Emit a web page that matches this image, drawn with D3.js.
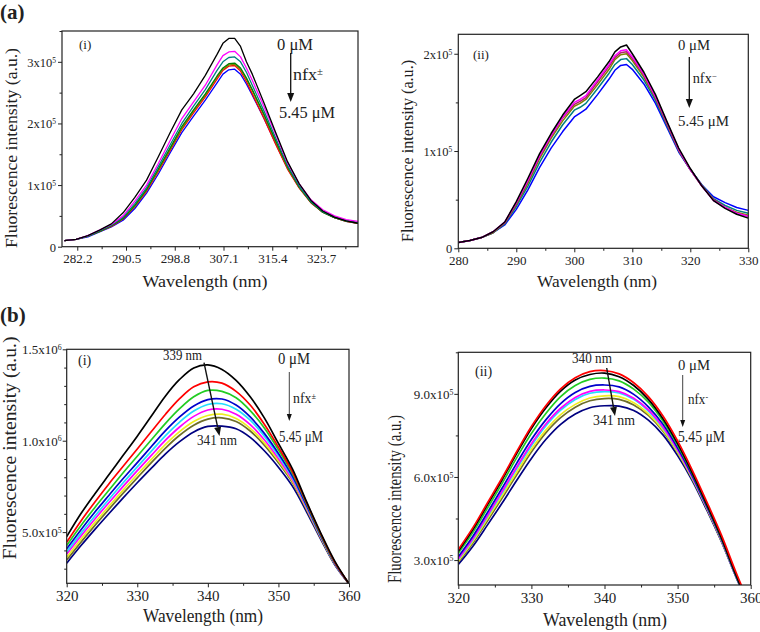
<!DOCTYPE html>
<html><head><meta charset="utf-8">
<script src="https://cdn.jsdelivr.net/npm/d3@7"></script>
<style>body{margin:0;background:#fff}svg{display:block}text{font-family:"Liberation Serif","Times New Roman",serif;fill:#222}</style>
</head><body>
<svg id="chart" width="760" height="632"></svg>
<script>
// ---------- DATA (intensities in units of 1e5 a.u.) ----------
const aiWavelength = [280,282,284,286,288,290,292,294,296,298,300,302,304,306,307,308,309,310,311,312,314,316,318,320,322,324,326,328,330];
const aiBlack   = [0.10,0.12,0.18,0.27,0.37,0.55,0.80,1.08,1.46,1.85,2.22,2.48,2.78,3.12,3.30,3.38,3.38,3.25,3.00,2.80,2.33,1.85,1.38,1.02,0.75,0.58,0.48,0.42,0.38];
const aiMagenta = [0.10,0.12,0.18,0.27,0.36,0.50,0.74,1.00,1.35,1.72,2.08,2.35,2.62,2.95,3.10,3.16,3.17,3.08,2.90,2.70,2.27,1.82,1.36,1.02,0.76,0.60,0.50,0.44,0.41];
const aiTeal    = [0.10,0.12,0.17,0.26,0.35,0.48,0.70,0.96,1.30,1.65,2.00,2.28,2.55,2.86,3.00,3.07,3.08,3.00,2.83,2.62,2.20,1.76,1.32,0.98,0.73,0.57,0.48,0.42,0.39];
const aiGreen   = [0.10,0.12,0.17,0.25,0.34,0.46,0.67,0.93,1.26,1.60,1.95,2.22,2.48,2.77,2.90,2.97,2.98,2.90,2.74,2.55,2.15,1.72,1.30,0.97,0.72,0.56,0.47,0.42,0.39];
const aiOlive   = [0.10,0.12,0.17,0.25,0.34,0.46,0.66,0.92,1.24,1.58,1.92,2.20,2.46,2.75,2.88,2.95,2.96,2.88,2.72,2.53,2.13,1.70,1.28,0.96,0.72,0.56,0.47,0.41,0.38];
const aiRed     = [0.10,0.12,0.17,0.25,0.33,0.45,0.65,0.90,1.22,1.56,1.90,2.17,2.43,2.72,2.86,2.93,2.94,2.85,2.68,2.48,2.08,1.66,1.26,0.95,0.71,0.56,0.47,0.41,0.38];
const aiBlue    = [0.10,0.12,0.16,0.24,0.32,0.43,0.62,0.87,1.18,1.52,1.85,2.12,2.38,2.66,2.80,2.87,2.88,2.80,2.64,2.46,2.08,1.67,1.27,0.96,0.72,0.56,0.47,0.41,0.38];
const aiXTicks = [282.2,290.5,298.8,307.1,315.4,323.7];
const aiXTickLabels = ["282.2","290.5","298.8","307.1","315.4","323.7"];
const aiYTicks = [0,1,2,3];
const aiYTickLabels = ["0","1x10^5","2x10^5","3x10^5"];

const aiiWavelength = [280,282,284,286,288,290,292,294,296,298,300,301,302,304,306,307,308,309,310,312,314,316,318,320,322,324,326,328,330];
const aiiBlack   = [0.06,0.08,0.11,0.17,0.27,0.48,0.72,0.97,1.18,1.37,1.53,1.57,1.61,1.76,1.92,2.02,2.07,2.09,2.00,1.81,1.58,1.30,1.03,0.82,0.64,0.49,0.41,0.35,0.31];
const aiiMagenta = [0.06,0.08,0.11,0.17,0.27,0.47,0.70,0.95,1.16,1.35,1.50,1.53,1.57,1.73,1.89,1.98,2.03,2.04,1.97,1.79,1.56,1.29,1.02,0.81,0.64,0.49,0.42,0.36,0.33];
const aiiRed     = [0.06,0.08,0.11,0.17,0.26,0.46,0.69,0.94,1.15,1.34,1.48,1.51,1.55,1.71,1.87,1.96,2.01,2.02,1.95,1.78,1.55,1.28,1.01,0.81,0.64,0.50,0.42,0.36,0.33];
const aiiOlive   = [0.06,0.08,0.11,0.16,0.26,0.45,0.67,0.92,1.13,1.31,1.46,1.49,1.53,1.68,1.84,1.94,1.99,2.00,1.93,1.76,1.54,1.27,1.01,0.81,0.64,0.50,0.42,0.37,0.34];
const aiiTeal    = [0.06,0.08,0.11,0.16,0.25,0.43,0.64,0.88,1.09,1.27,1.42,1.45,1.49,1.64,1.80,1.89,1.94,1.95,1.89,1.73,1.52,1.26,1.00,0.81,0.65,0.51,0.44,0.39,0.36];
const aiiBlue    = [0.06,0.08,0.11,0.16,0.24,0.40,0.60,0.83,1.03,1.20,1.35,1.39,1.43,1.58,1.74,1.83,1.88,1.89,1.84,1.69,1.49,1.24,0.99,0.81,0.65,0.53,0.47,0.42,0.39];
const aiiXTicks = [280,290,300,310,320,330];
const aiiXTickLabels = ["280","290","300","310","320","330"];
const aiiYTicks = [0,1,2];
const aiiYTickLabels = ["0","1x10^5","2x10^5"];

const bWavelength = [320,322,324,326,328,330,332,334,336,338,340,342,344,346,348,350,352,354,356,358,360];
const biBlack   = [4.75,6.00,7.10,8.15,9.20,10.25,11.35,12.45,13.35,13.98,14.15,13.90,13.30,12.40,11.25,9.85,8.45,6.65,4.95,3.40,2.17];
const biRed     = [4.45,5.60,6.65,7.65,8.60,9.55,10.50,11.45,12.30,12.95,13.22,13.15,12.70,11.95,10.90,9.65,8.30,6.60,4.90,3.35,2.17];
const biGreen   = [4.27,5.35,6.35,7.30,8.25,9.15,10.05,10.95,11.75,12.40,12.75,12.70,12.35,11.65,10.70,9.50,8.20,6.55,4.85,3.33,2.17];
const biBlue    = [4.09,5.12,6.10,7.02,7.93,8.80,9.68,10.55,11.30,11.90,12.25,12.28,11.95,11.30,10.40,9.30,8.05,6.45,4.80,3.30,2.17];
const biCyan    = [3.92,4.93,5.88,6.80,7.70,8.57,9.43,10.28,11.02,11.62,11.98,12.02,11.72,11.12,10.25,9.18,7.97,6.40,4.77,3.28,2.17];
const biMagenta = [3.80,4.78,5.72,6.62,7.50,8.36,9.20,10.03,10.75,11.33,11.68,11.72,11.45,10.88,10.05,9.02,7.86,6.33,4.73,3.27,2.17];
const biYellow  = [3.62,4.60,5.53,6.42,7.30,8.15,8.98,9.80,10.50,11.05,11.38,11.45,11.22,10.68,9.88,8.90,7.77,6.27,4.70,3.25,2.17];
const biOlive   = [3.47,4.44,5.37,6.26,7.13,7.97,8.80,9.60,10.30,10.85,11.18,11.25,11.05,10.53,9.76,8.80,7.70,6.22,4.67,3.24,2.17];
const biNavy    = [3.30,4.25,5.15,6.02,6.87,7.70,8.50,9.28,9.95,10.48,10.78,10.80,10.65,10.18,9.45,8.55,7.50,6.10,4.60,3.20,2.17];
const biYTicks = [5,10,15];
const biYTickLabels = ["5.0x10^5","1.0x10^6","1.5x10^6"];

const biiRed     = [3.38,4.17,5.07,5.97,6.92,7.82,8.58,9.18,9.58,9.80,9.84,9.72,9.40,8.90,8.20,7.30,6.25,5.10,3.90,2.55,1.30];
const biiBlack   = [3.32,4.10,5.00,5.90,6.85,7.75,8.50,9.10,9.50,9.70,9.75,9.62,9.30,8.80,8.10,7.20,6.15,5.00,3.80,2.45,1.20];
const biiGreen   = [3.25,4.00,4.88,5.77,6.70,7.57,8.30,8.90,9.30,9.52,9.57,9.47,9.17,8.70,8.02,7.15,6.12,4.98,3.78,2.45,1.20];
const biiBlue    = [3.12,3.86,4.72,5.60,6.50,7.35,8.07,8.65,9.05,9.27,9.32,9.25,8.98,8.53,7.90,7.05,6.05,4.93,3.75,2.42,1.20];
const biiMagenta = [3.05,3.78,4.62,5.48,6.36,7.20,7.92,8.48,8.87,9.09,9.14,9.08,8.84,8.42,7.80,6.98,6.00,4.90,3.73,2.41,1.20];
const biiCyan    = [3.02,3.74,4.58,5.43,6.30,7.13,7.85,8.41,8.80,9.02,9.08,9.03,8.80,8.38,7.77,6.96,5.99,4.89,3.72,2.40,1.20];
const biiYellow  = [2.97,3.68,4.50,5.33,6.18,7.00,7.70,8.25,8.62,8.85,8.93,8.90,8.68,8.28,7.70,6.90,5.95,4.87,3.70,2.40,1.20];
const biiOlive   = [2.93,3.62,4.42,5.24,6.08,6.90,7.60,8.14,8.52,8.75,8.83,8.80,8.60,8.22,7.65,6.87,5.93,4.85,3.69,2.39,1.20];
const biiNavy    = [2.84,3.50,4.27,5.06,5.88,6.67,7.36,7.90,8.27,8.50,8.57,8.56,8.40,8.05,7.52,6.77,5.87,4.80,3.66,2.38,1.20];
const biiYTicks = [3,6,9];
const biiYTickLabels = ["3.0x10^5","6.0x10^5","9.0x10^5"];
const bXTicks = [320,330,340,350,360];
const bXTickLabels = ["320","330","340","350","360"];

// ---------- DRAWING ----------
const svg = d3.select("#chart");
const C = {black:"#000000", magenta:"#ff00ff", teal:"#008080", green:"#008000", olive:"#808000", red:"#ff0000", blue:"#0000ff",
  bgreen:"#22cc22", bblue:"#0000cc", cyan:"#22ddff", yellow:"#eeee22", bolive:"#6e6e2a", navy:"#000080"};

function supText(sel, str) {
  const parts = str.split("^");
  sel.text(parts[0]);
  if (parts[1]) sel.append("tspan").attr("dy", "-0.55em").attr("font-size", "0.6em").text(parts[1]);
}

function drawPanel(cfg, idx) {
  const x = d3.scaleLinear().domain(cfg.xDomain).range([cfg.left, cfg.right]);
  const y = d3.scaleLinear().domain(cfg.yDomain).range([cfg.bottom, cfg.top]);
  const g = svg.append("g");
  const clipId = "clip" + idx;
  svg.append("clipPath").attr("id", clipId).append("rect")
    .attr("x", cfg.left).attr("y", cfg.top).attr("width", cfg.right - cfg.left).attr("height", cfg.bottom - cfg.top);
  const line = d3.line().x(d => x(d[0])).y(d => y(d[1])).curve(cfg.curve);
  const lg = g.append("g").attr("clip-path", `url(#${clipId})`);
  cfg.series.slice().reverse().forEach(s => {
    lg.append("path").datum(cfg.wl.map((w, i) => [w, s.v[i]]))
      .attr("d", line).attr("fill", "none").attr("stroke", s.c).attr("stroke-width", cfg.lw).attr("stroke-linejoin", "round");
  });
  g.append("rect").attr("x", cfg.left).attr("y", cfg.top).attr("width", cfg.right - cfg.left).attr("height", cfg.bottom - cfg.top)
    .attr("fill", "none").attr("stroke", "#222").attr("stroke-width", 1.2);

  const xa = g.append("g").attr("transform", `translate(0,${cfg.bottom})`)
    .call(d3.axisBottom(x).tickValues(cfg.xTicks).tickSize(4).tickPadding(3).tickFormat((d, i) => cfg.xLabels[i]));
  g.append("g").attr("transform", `translate(0,${cfg.bottom})`)
    .call(d3.axisBottom(x).tickValues(cfg.xMinor).tickSize(2.5).tickFormat(""));
  const ya = g.append("g").attr("transform", `translate(${cfg.left},0)`)
    .call(d3.axisLeft(y).tickValues(cfg.yTicks).tickSize(4).tickPadding(3).tickFormat(""));
  g.append("g").attr("transform", `translate(${cfg.left},0)`)
    .call(d3.axisLeft(y).tickValues(cfg.yMinor).tickSize(2.5).tickFormat(""));
  g.selectAll(".domain").remove();
  g.selectAll(".tick line").attr("stroke", "#222");
  xa.selectAll("text").attr("font-size", cfg.xFont).attr("fill", "#222").style("font-family", '"Liberation Serif",serif');
  ya.selectAll(".tick").each(function(d, i) {
    d3.select(this).select("text").remove();
    const t = d3.select(this).append("text").attr("x", -cfg.yLabelGap).attr("dy", "0.35em")
      .attr("text-anchor", "end").attr("font-size", cfg.yFont).attr("fill", "#222");
    supText(t, cfg.yLabels[i]);
  });

  svg.append("text").attr("x", cfg.xtX).attr("y", cfg.xtY).attr("text-anchor", "middle")
    .attr("font-size", cfg.titleFont).attr("textLength", cfg.xtLen).attr("lengthAdjust", "spacingAndGlyphs")
    .text("Wavelength (nm)");
  svg.append("text").attr("transform", `translate(${cfg.ytX},${cfg.ytY}) rotate(-90)`).attr("text-anchor", "middle")
    .attr("font-size", cfg.titleFont).attr("textLength", cfg.ytLen).attr("lengthAdjust", "spacingAndGlyphs")
    .text("Fluorescence intensity (a.u.)");
}

function arrow(x1, y1, x2, y2, w, hw, hl) {
  const ang = Math.atan2(y2 - y1, x2 - x1);
  const bx = x2 - hl * Math.cos(ang), by = y2 - hl * Math.sin(ang);
  svg.append("line").attr("x1", x1).attr("y1", y1).attr("x2", bx).attr("y2", by).attr("stroke", "#111").attr("stroke-width", w);
  const px = -Math.sin(ang) * hw, py = Math.cos(ang) * hw;
  svg.append("path").attr("d", `M${x2},${y2}L${bx + px},${by + py}L${bx - px},${by - py}Z`).attr("fill", "#111");
}
function label(x, y, str, size, opts = {}) {
  const t = svg.append("text").attr("x", x).attr("y", y).attr("font-size", size);
  if (opts.anchor) t.attr("text-anchor", opts.anchor);
  if (opts.bold) t.attr("font-weight", "bold");
  if (opts.len) t.attr("textLength", opts.len).attr("lengthAdjust", "spacingAndGlyphs");
  const parts = str.split("^");
  t.text(parts[0]);
  if (parts[1]) t.append("tspan").attr("dy", "-0.5em").attr("font-size", "0.6em").text(parts[1]);
  return t;
}

const panels = [
  { left: 62, right: 358, top: 31, bottom: 246.7, xDomain: [279.6, 330], yDomain: [0, 3.5],
    wl: aiWavelength, curve: d3.curveLinear, lw: 1.3,
    series: [{v: aiBlack, c: C.black}, {v: aiMagenta, c: C.magenta}, {v: aiTeal, c: C.teal}, {v: aiGreen, c: C.green},
             {v: aiOlive, c: C.olive}, {v: aiRed, c: C.red}, {v: aiBlue, c: C.blue}],
    xTicks: aiXTicks, xLabels: aiXTickLabels, xMinor: aiXTicks.map(d => d + 4.15).filter(d => d < 330),
    yTicks: aiYTicks, yLabels: aiYTickLabels, yMinor: [0.5, 1.5, 2.5, 3.5],
    xFont: 13, yFont: 12.5, yLabelGap: 6, titleFont: 17,
    xtX: 205, xtY: 287, xtLen: 125, ytX: 17, ytY: 148, ytLen: 200 },
  { left: 458.3, right: 748.3, top: 34.3, bottom: 248.3, xDomain: [280, 330], yDomain: [0, 2.2],
    wl: aiiWavelength, curve: d3.curveLinear, lw: 1.5,
    series: [{v: aiiBlack, c: C.black}, {v: aiiMagenta, c: C.magenta}, {v: aiiRed, c: "#b0206a"}, {v: aiiOlive, c: C.olive},
             {v: aiiTeal, c: C.teal}, {v: aiiBlue, c: C.blue}],
    xTicks: aiiXTicks, xLabels: aiiXTickLabels, xMinor: [285, 295, 305, 315, 325],
    yTicks: aiiYTicks, yLabels: aiiYTickLabels, yMinor: [0.5, 1.5],
    xFont: 13, yFont: 12.5, yLabelGap: 6, titleFont: 17,
    xtX: 597, xtY: 287, xtLen: 120, ytX: 413, ytY: 151, ytLen: 182 },
  { left: 66.7, right: 349, top: 349.3, bottom: 583.3, xDomain: [320, 360], yDomain: [2.2, 15],
    wl: bWavelength, curve: d3.curveCatmullRom, lw: 1.7,
    series: [{v: biBlack, c: C.black}, {v: biRed, c: C.red}, {v: biGreen, c: C.bgreen}, {v: biBlue, c: C.bblue},
             {v: biCyan, c: C.cyan}, {v: biMagenta, c: C.magenta}, {v: biYellow, c: C.yellow}, {v: biOlive, c: C.bolive},
             {v: biNavy, c: C.navy}],
    xTicks: bXTicks, xLabels: bXTickLabels, xMinor: [325, 335, 345, 355],
    yTicks: biYTicks, yLabels: biYTickLabels, yMinor: [3, 4, 6, 7, 8, 9, 11, 12, 13, 14],
    xFont: 15, yFont: 13, yLabelGap: 5, titleFont: 18,
    xtX: 203, xtY: 622, xtLen: 120, ytX: 16, ytY: 448, ytLen: 223 },
  { left: 458.3, right: 750.7, top: 352.3, bottom: 585, xDomain: [320, 360], yDomain: [2.1, 10.5],
    wl: bWavelength, curve: d3.curveCatmullRom, lw: 1.7,
    series: [{v: biiRed, c: C.red}, {v: biiBlack, c: C.black}, {v: biiGreen, c: C.bgreen}, {v: biiBlue, c: C.bblue},
             {v: biiMagenta, c: C.magenta}, {v: biiCyan, c: C.cyan}, {v: biiYellow, c: C.yellow}, {v: biiOlive, c: C.bolive},
             {v: biiNavy, c: C.navy}],
    xTicks: bXTicks, xLabels: bXTickLabels, xMinor: [325, 335, 345, 355],
    yTicks: biiYTicks, yLabels: biiYTickLabels, yMinor: [4.5, 7.5, 10.5],
    xFont: 15, yFont: 13, yLabelGap: 5, titleFont: 18,
    xtX: 605, xtY: 626, xtLen: 124, ytX: 401, ytY: 499, ytLen: 168 }
];
panels.forEach(drawPanel);

label(0, 19, "(a)", 21, {bold: true});
label(0, 322, "(b)", 21, {bold: true});

label(79, 49, "(i)", 13);
label(277, 50, "0 μM", 16, {len: 36});
arrow(290.7, 53, 290.7, 102, 1.3, 3.5, 9);
label(293, 80, "nfx^±", 16, {len: 30});
label(279, 118, "5.45 μM", 16, {len: 56});

label(473, 59, "(ii)", 13);
label(678, 50, "0 μM", 15, {len: 32});
arrow(689.3, 57, 689.3, 108, 1.3, 3.5, 9);
label(692.7, 83, "nfx^−", 15, {len: 24});
label(678, 126, "5.45 μM", 15, {len: 51});

label(78, 365, "(i)", 14);
label(163, 360, "339 nm", 15, {len: 39});
arrow(204, 362.7, 219.5, 436, 1.4, 3.5, 9);
label(197, 445, "341 nm", 15, {len: 40});
label(278, 364, "0 μM", 16, {len: 32});
arrow(289.3, 372, 289.3, 421, 0.8, 2.5, 7);
label(293, 403, "nfx^±", 15, {len: 23});
label(279, 442, "5.45 μM", 16, {len: 44});

label(475, 376, "(ii)", 14);
label(572, 363, "340 nm", 15, {len: 40});
arrow(606.7, 368, 615, 416, 1.4, 3.5, 9);
label(593, 425, "341 nm", 15, {len: 42});
label(678, 370, "0 μM", 15, {len: 32});
arrow(682.7, 375, 682.7, 427, 0.8, 2.5, 7);
label(688, 404, "nfx^-", 15, {len: 20});
label(678, 442, "5.45 μM", 16, {len: 47});
</script>
</body></html>
